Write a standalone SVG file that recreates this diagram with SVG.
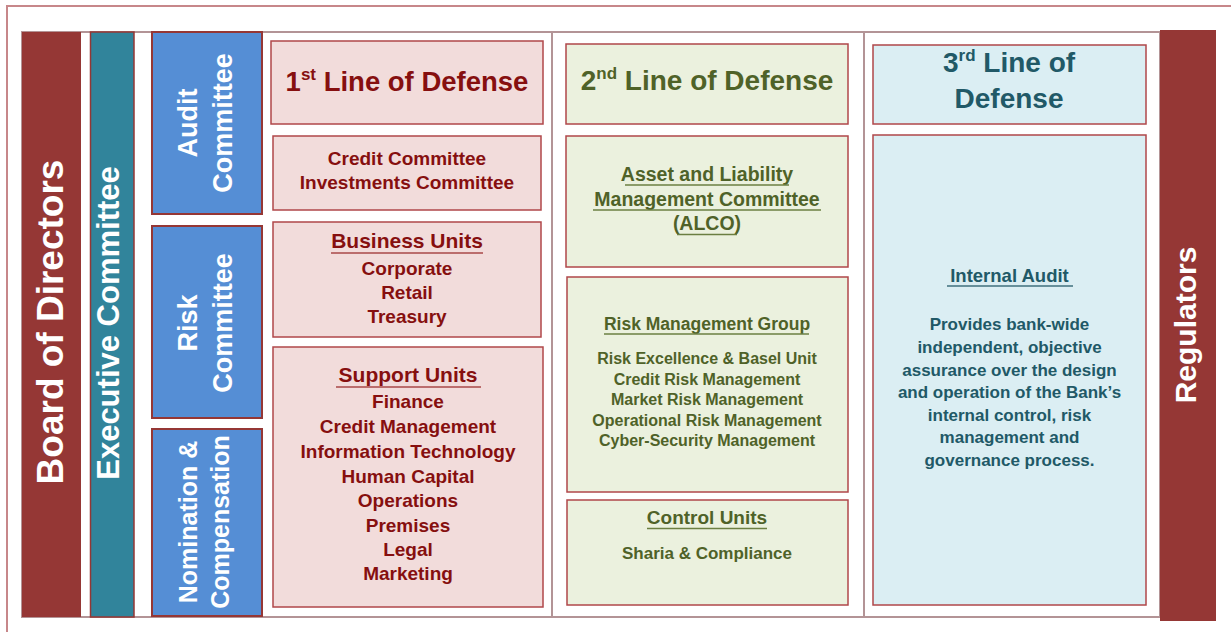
<svg xmlns="http://www.w3.org/2000/svg" width="1231" height="632" viewBox="0 0 1231 632">
<style>
.t{font-family:"Liberation Sans",Arial,sans-serif;font-weight:bold;text-anchor:middle}
.w{fill:#ffffff}
.r{fill:#860f0f}
.g{fill:#4f6228}
.b{fill:#215967}
.pink{fill:#f2dcdb;stroke:#b0474a;stroke-width:1.5}
.green{fill:#ebf1de;stroke:#b0474a;stroke-width:1.5}
.blue{fill:#dbeef3;stroke:#b0474a;stroke-width:1.5}
.com{fill:#558ed5;stroke:#953735;stroke-width:2}
.ur{stroke:#a84848;stroke-width:1.4}
.ug{stroke:#6b7f42;stroke-width:1.4}
.ub{stroke:#3f6f7c;stroke-width:1.4}
.frame{fill:none;stroke:#b39496;stroke-width:2}
</style>
<rect x="0" y="0" width="1231" height="632" fill="#ffffff"/>
<g id="connectors">
<rect x="7" y="6" width="1240" height="700" fill="none" stroke="#c7878a" stroke-width="2"/>
<rect class="frame" x="22" y="32" width="1138" height="585"/>
<line class="frame" x1="552" y1="32" x2="552" y2="617"/>
<line class="frame" x1="864" y1="32" x2="864" y2="617"/>
</g>
<g id="board">
<rect x="22" y="32" width="59" height="585" fill="#953735"/>
<text class="t w" font-size="37" transform="translate(63,322) rotate(-90)">Board of Directors</text>
</g>
<g id="executive">
<rect x="90.5" y="32" width="43.5" height="585" fill="#31849b" stroke="#953735" stroke-width="1.5"/>
<text class="t w" font-size="31" transform="translate(119,323) rotate(-90)">Executive Committee</text>
</g>
<g id="audit-committee">
<rect class="com" x="152" y="32" width="110" height="182"/>
<text class="t w" font-size="27" transform="translate(197,123) rotate(-90)">Audit</text>
<text class="t w" font-size="27" transform="translate(232,123) rotate(-90)">Committee</text>
</g>
<g id="risk-committee">
<rect class="com" x="152" y="226" width="110" height="192"/>
<text class="t w" font-size="27" transform="translate(197,323) rotate(-90)">Risk</text>
<text class="t w" font-size="27" transform="translate(232,323) rotate(-90)">Committee</text>
</g>
<g id="nomination">
<rect class="com" x="152" y="429" width="110" height="187"/>
<text class="t w" font-size="25" transform="translate(197,522) rotate(-90)">Nomination &amp;</text>
<text class="t w" font-size="25" transform="translate(229,522) rotate(-90)">Compensation</text>
</g>
<g id="line1-header">
<rect class="pink" x="271" y="41" width="272" height="83"/>
<text class="t r" font-size="27.5" x="407" y="91">1<tspan font-size="17" dy="-11">st</tspan><tspan dy="11"> Line of Defense</tspan></text>
</g>
<g id="credit-committee">
<rect class="pink" x="273" y="136" width="268" height="74"/>
<text class="t r" font-size="19" x="407" y="165">Credit Committee</text>
<text class="t r" font-size="19" x="407" y="189">Investments Committee</text>
</g>
<g id="business-units">
<rect class="pink" x="273" y="222" width="268" height="115"/>
<text class="t r" font-size="21" x="407" y="248">Business Units</text>
<line class="ur" x1="331" y1="253" x2="483" y2="253"/>
<text class="t r" font-size="19" x="407" y="275">Corporate</text>
<text class="t r" font-size="19" x="407" y="299">Retail</text>
<text class="t r" font-size="19" x="407" y="323">Treasury</text>
</g>
<g id="support-units">
<rect class="pink" x="273" y="347" width="270" height="260"/>
<text class="t r" font-size="21" x="408" y="382">Support Units</text>
<line class="ur" x1="336" y1="387" x2="481" y2="387"/>
<text class="t r" font-size="19" x="408" y="408">Finance</text>
<text class="t r" font-size="19" x="408" y="433">Credit Management</text>
<text class="t r" font-size="19" x="408" y="458">Information Technology</text>
<text class="t r" font-size="19" x="408" y="483">Human Capital</text>
<text class="t r" font-size="19" x="408" y="507">Operations</text>
<text class="t r" font-size="19" x="408" y="532">Premises</text>
<text class="t r" font-size="19" x="408" y="556">Legal</text>
<text class="t r" font-size="19" x="408" y="580">Marketing</text>
</g>
<g id="line2-header">
<rect class="green" x="566" y="44" width="282" height="80"/>
<text class="t g" font-size="28" x="707" y="90">2<tspan font-size="17" dy="-11">nd</tspan><tspan dy="11"> Line of Defense</tspan></text>
</g>
<g id="alco">
<rect class="green" x="566" y="136" width="282" height="131"/>
<text class="t g" font-size="19.5" x="707" y="181">Asset and Liability</text>
<line class="ug" x1="625" y1="185" x2="789" y2="185"/>
<text class="t g" font-size="19.5" x="707" y="206">Management Committee</text>
<line class="ug" x1="593" y1="210" x2="821" y2="210"/>
<text class="t g" font-size="19.5" x="707" y="230">(ALCO)</text>
<line class="ug" x1="677" y1="234.5" x2="737" y2="234.5"/>
</g>
<g id="risk-management-group">
<rect class="green" x="567" y="277" width="281" height="215"/>
<text class="t g" font-size="17.5" x="707" y="330">Risk Management Group</text>
<line class="ug" x1="604" y1="334" x2="809" y2="334"/>
<text class="t g" font-size="16" x="707" y="364">Risk Excellence &amp; Basel Unit</text>
<text class="t g" font-size="16" x="707" y="385">Credit Risk Management</text>
<text class="t g" font-size="16" x="707" y="405">Market Risk Management</text>
<text class="t g" font-size="16" x="707" y="426">Operational Risk Management</text>
<text class="t g" font-size="16" x="707" y="446">Cyber-Security Management</text>
</g>
<g id="control-units">
<rect class="green" x="567" y="500" width="281" height="105"/>
<text class="t g" font-size="19" x="707" y="524">Control Units</text>
<line class="ug" x1="647" y1="528.5" x2="767" y2="528.5"/>
<text class="t g" font-size="17" x="707" y="559">Sharia &amp; Compliance</text>
</g>
<g id="line3-header">
<rect class="blue" x="873" y="45" width="273" height="79"/>
<text class="t b" font-size="28" x="1009" y="72">3<tspan font-size="17" dy="-11">rd</tspan><tspan dy="11"> Line of</tspan></text>
<text class="t b" font-size="28" x="1009" y="108">Defense</text>
</g>
<g id="internal-audit">
<rect class="blue" x="873" y="135" width="273" height="470"/>
<text class="t b" font-size="18.5" x="1009.5" y="282">Internal Audit</text>
<line class="ub" x1="947" y1="286" x2="1073" y2="286"/>
<text class="t b" font-size="17" x="1009.5" y="330">Provides bank-wide</text>
<text class="t b" font-size="17" x="1009.5" y="353">independent, objective</text>
<text class="t b" font-size="17" x="1009.5" y="376">assurance over the design</text>
<text class="t b" font-size="17" x="1009.5" y="398">and operation of the Bank’s</text>
<text class="t b" font-size="17" x="1009.5" y="421">internal control, risk</text>
<text class="t b" font-size="17" x="1009.5" y="443">management and</text>
<text class="t b" font-size="17" x="1009.5" y="466">governance process.</text>
</g>
<g id="regulators">
<rect x="1160" y="30" width="56" height="591" fill="#953735"/>
<text class="t w" font-size="30" transform="translate(1196,325) rotate(-90)">Regulators</text>
</g>
</svg>
